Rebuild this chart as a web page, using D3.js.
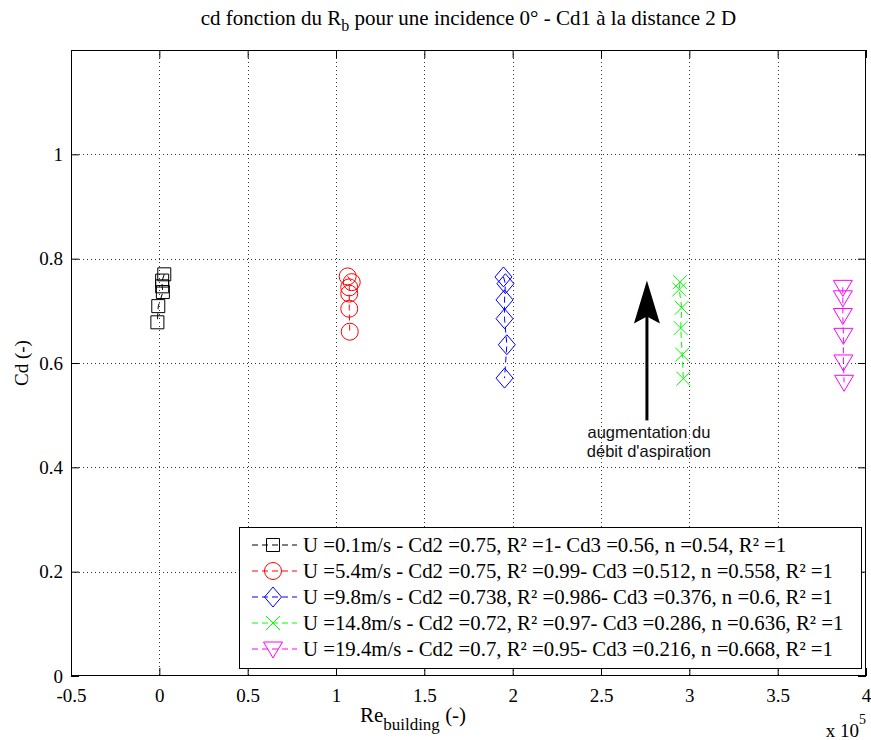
<!DOCTYPE html>
<html><head><meta charset="utf-8">
<script src="https://cdn.jsdelivr.net/npm/d3@7"></script>
<style>body{margin:0;background:#fff}svg{display:block}</style>
</head><body><svg id="c" width="871" height="740"></svg>
<script>
// ---- data ----
const seriesNames = [
  "U =0.1m/s - Cd2 =0.75, R\u00b2 =1- Cd3 =0.56, n =0.54, R\u00b2 =1",
  "U =5.4m/s - Cd2 =0.75, R\u00b2 =0.99- Cd3 =0.512, n =0.558, R\u00b2 =1",
  "U =9.8m/s - Cd2 =0.738, R\u00b2 =0.986- Cd3 =0.376, n =0.6, R\u00b2 =1",
  "U =14.8m/s - Cd2 =0.72, R\u00b2 =0.97- Cd3 =0.286, n =0.636, R\u00b2 =1",
  "U =19.4m/s - Cd2 =0.7, R\u00b2 =0.95- Cd3 =0.216, n =0.668, R\u00b2 =1"
];
const seriesColors = ["#000000", "#ff0000", "#0000ff", "#00ff00", "#ff00ff"];
const seriesMarkers = ["square", "circle", "diamond", "x", "triangledown"];
// Re_building (x 1e5)
const xS1 = [0.028, 0.016, 0.016, 0.020, -0.006, -0.011];
const xS2 = [1.066, 1.089, 1.075, 1.075, 1.075, 1.078];
const xS3 = [1.948, 1.959, 1.954, 1.954, 1.967, 1.954];
const xS4 = [2.947, 2.943, 2.957, 2.951, 2.960, 2.966];
const xS5 = [3.869, 3.869, 3.869, 3.872, 3.872, 3.876];
// Cd
const yS1 = [0.770, 0.758, 0.747, 0.736, 0.709, 0.678];
const yS2 = [0.766, 0.755, 0.745, 0.733, 0.704, 0.660];
const yS3 = [0.765, 0.752, 0.721, 0.685, 0.635, 0.571];
const yS4 = [0.755, 0.741, 0.706, 0.667, 0.616, 0.570];
const yS5 = [0.745, 0.725, 0.691, 0.653, 0.602, 0.563];
const xTicks = [-0.5, 0, 0.5, 1, 1.5, 2, 2.5, 3, 3.5, 4];
const xTickLabels = ["-0.5", "0", "0.5", "1", "1.5", "2", "2.5", "3", "3.5", "4"];
const yTicks = [0, 0.2, 0.4, 0.6, 0.8, 1];
const yTickLabels = ["0", "0.2", "0.4", "0.6", "0.8", "1"];
const xDomain = [-0.5, 4];
const yDomain = [0, 1.2];
// annotation arrow (data coords)
const arrowFrom = [2.76, 0.49];
const arrowTo = [2.76, 0.758];
const annotationLines = ["augmentation du", "d\u00e9bit d'aspiration"];

// ---- drawing ----
const svg = d3.select("#c");
const serif = "'Liberation Serif','Times New Roman',serif";
const sans = "'Liberation Sans',Arial,sans-serif";
const L = 71, R = 866, T = 50, B = 676;
const x = d3.scaleLinear().domain(xDomain).range([L, R]);
const y = d3.scaleLinear().domain(yDomain).range([B, T]);

svg.append("rect").attr("width", 871).attr("height", 740).attr("fill", "#fff");

// grid
const grid = svg.append("g").attr("stroke", "#333").attr("stroke-width", 1).attr("stroke-dasharray", "1,3");
xTicks.forEach(t => { if (t > xDomain[0] && t < xDomain[1]) grid.append("line").attr("x1", Math.round(x(t)) + 0.5).attr("x2", Math.round(x(t)) + 0.5).attr("y1", T).attr("y2", B); });
yTicks.forEach(t => { if (t > yDomain[0] && t < yDomain[1]) grid.append("line").attr("y1", Math.round(y(t)) + 0.5).attr("y2", Math.round(y(t)) + 0.5).attr("x1", L).attr("x2", R); });

// axes
function styleAxis(g) {
  g.select(".domain").remove();
  g.selectAll(".tick line").attr("stroke", "#000");
  g.selectAll("text").attr("font-family", serif).attr("font-size", 19).attr("fill", "#000");
}
const fmtX = d => xTickLabels[xTicks.indexOf(d)];
const fmtY = d => yTickLabels[yTicks.indexOf(d)];
svg.append("g").attr("transform", `translate(0,${B})`)
  .call(d3.axisBottom(x).tickValues(xTicks).tickFormat(fmtX).tickSize(-8).tickPadding(13))
  .call(styleAxis);
svg.append("g").attr("transform", `translate(0,${T})`)
  .call(d3.axisTop(x).tickValues(xTicks).tickFormat("").tickSize(-8))
  .call(styleAxis);
svg.append("g").attr("transform", `translate(${L},0)`)
  .call(d3.axisLeft(y).tickValues(yTicks).tickFormat(fmtY).tickSize(-8).tickPadding(8))
  .call(styleAxis);
svg.append("g").attr("transform", `translate(${R},0)`)
  .call(d3.axisRight(y).tickValues(yTicks).tickFormat("").tickSize(-8))
  .call(styleAxis);
svg.append("rect").attr("x", L + 0.5).attr("y", T + 0.5).attr("width", R - L - 1).attr("height", B - T - 1)
  .attr("fill", "none").attr("stroke", "#000").attr("stroke-width", 1);

// markers
function markerPath(type) {
  switch (type) {
    case "square": return "M-6.5,-6.5h13v13h-13Z";
    case "circle": return "M-8.5,0a8.5,8.5 0 1,0 17,0a8.5,8.5 0 1,0 -17,0Z";
    case "diamond": return "M0,-10L8.5,0L0,10L-8.5,0Z";
    case "x": return "M-7,-7L7,7M-7,7L7,-7";
    case "triangledown": return "M-9.5,-7L9.5,-7L0,9Z";
  }
}
const xs = [xS1, xS2, xS3, xS4, xS5];
const ys = [yS1, yS2, yS3, yS4, yS5];
const lineGen = d3.line().x(d => x(d[0])).y(d => y(d[1]));
xs.forEach((xv, i) => {
  const pts = xv.map((v, j) => [v, ys[i][j]]);
  const g = svg.append("g");
  g.append("path").attr("d", lineGen(pts)).attr("fill", "none").attr("stroke", seriesColors[i])
    .attr("stroke-width", 1).attr("stroke-dasharray", "6,4");
  g.selectAll("path.m").data(pts).join("path").attr("class", "m")
    .attr("transform", d => `translate(${x(d[0])},${y(d[1])})`)
    .attr("d", markerPath(seriesMarkers[i])).attr("fill", "none")
    .attr("stroke", seriesColors[i]).attr("stroke-width", 1);
});

// arrow annotation
const ax = x(arrowFrom[0]), ay0 = y(arrowFrom[1]), ay1 = y(arrowTo[1]);
svg.append("line").attr("x1", ax).attr("x2", ax).attr("y1", ay0).attr("y2", ay1 + 30)
  .attr("stroke", "#000").attr("stroke-width", 3);
svg.append("path").attr("d", `M${ax},${ay1}L${ax + 13},${ay1 + 43}L${ax},${ay1 + 36}L${ax - 13},${ay1 + 43}Z`).attr("fill", "#000");
const at = svg.append("text").attr("font-family", sans).attr("font-size", 16.5).attr("fill", "#111")
  .attr("text-anchor", "middle");
annotationLines.forEach((s, i) => at.append("tspan").attr("x", ax + 2).attr("y", ay0 + 18 + i * 19).text(s));

// legend
const lg = svg.append("g");
lg.append("rect").attr("x", 239.5).attr("y", 527.5).attr("width", 622).attr("height", 141)
  .attr("fill", "#fff").attr("stroke", "#000").attr("stroke-width", 1);
seriesNames.forEach((n, i) => {
  const cy = 545 + i * 26;
  lg.append("line").attr("x1", 252).attr("x2", 297).attr("y1", cy).attr("y2", cy)
    .attr("stroke", seriesColors[i]).attr("stroke-dasharray", "6,4").attr("stroke-width", 1);
  lg.append("path").attr("transform", `translate(273,${cy})`).attr("d", markerPath(seriesMarkers[i]))
    .attr("fill", "none").attr("stroke", seriesColors[i]).attr("stroke-width", 1);
  lg.append("text").attr("x", 303).attr("y", cy + 7).attr("font-family", serif).attr("font-size", 20.8)
    .attr("fill", "#000").text(n);
});

// title
const tt = svg.append("text").attr("x", (L + R) / 2).attr("y", 25).attr("text-anchor", "middle")
  .attr("font-family", serif).attr("font-size", 21).attr("fill", "#000");
tt.append("tspan").text("cd fonction du R");
tt.append("tspan").attr("dy", 6).attr("font-size", 16).text("b");
tt.append("tspan").attr("dy", -6).text(" pour une incidence 0\u00b0 - Cd1 \u00e0 la distance 2 D");

// x label
const xl = svg.append("text").attr("x", 413).attr("y", 722).attr("text-anchor", "middle")
  .attr("font-family", serif).attr("font-size", 21).attr("fill", "#000");
xl.append("tspan").text("Re");
xl.append("tspan").attr("dy", 8).attr("font-size", 17).text("building");
xl.append("tspan").attr("dy", -8).text(" (-)");

// exponent
const ex = svg.append("text").attr("x", 866).attr("y", 737).attr("text-anchor", "end")
  .attr("font-family", serif).attr("font-size", 19).attr("fill", "#000");
ex.append("tspan").text("x 10");
ex.append("tspan").attr("dy", -13).attr("font-size", 14).text("5");

// y label
svg.append("text").attr("transform", `translate(28,${(T + B) / 2}) rotate(-90)`).attr("text-anchor", "middle")
  .attr("font-family", serif).attr("font-size", 19).attr("fill", "#000").text("Cd (-)");
</script></body></html>
